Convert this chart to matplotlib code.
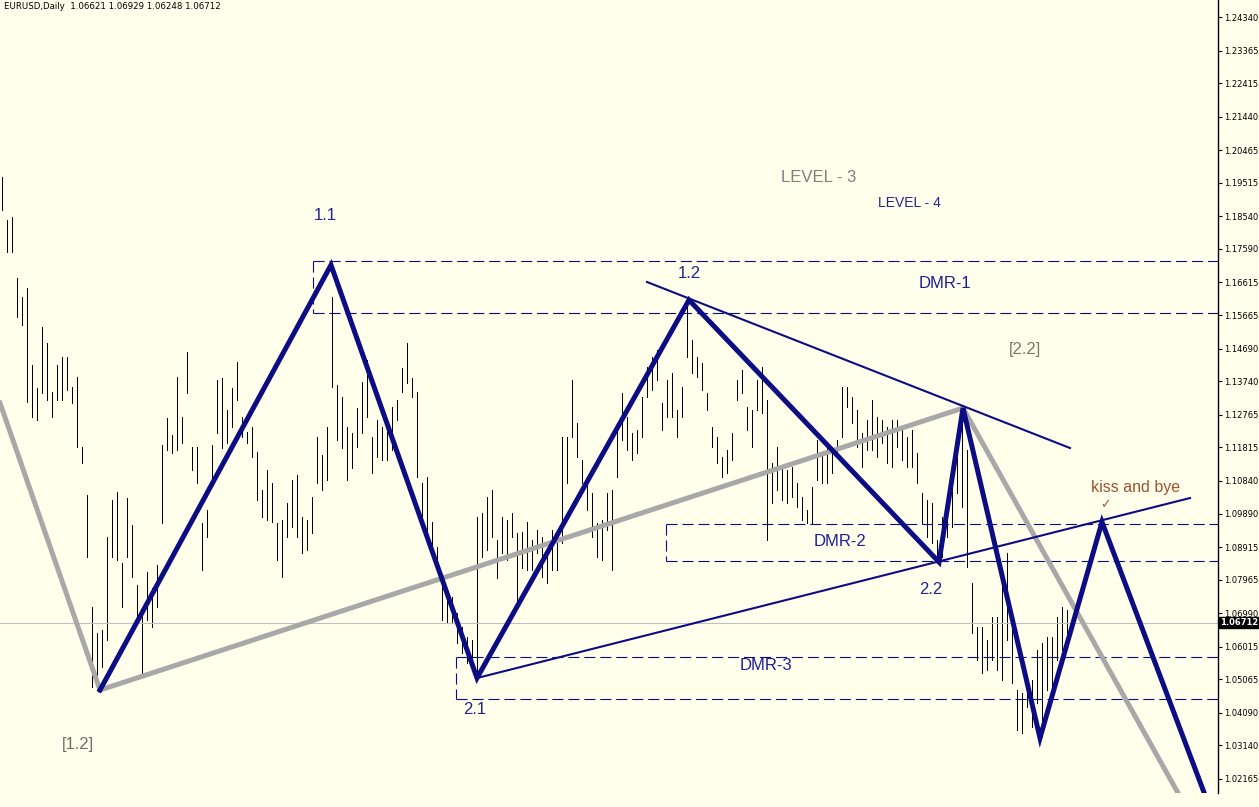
import numpy as np
import matplotlib
matplotlib.use('Agg')
import matplotlib.pyplot as plt
import matplotlib.transforms as mtransforms

plt.rcParams['font.family'] = ['Liberation Sans', 'DejaVu Sans']
plt.rcParams['lines.scale_dashes'] = False

# daily bars, high / low in 1e-4 units
bar_high = [11969, 11844, 11852, 11675, 11620, 11646, 11422, 11355, 11532, 11486,
            11343, 11422, 11445, 11445, 11358, 11387, 11183, 11044, 10718, 10642,
            10651, 10921, 11029, 11052, 10846, 11035, 10956, 10782, 10709, 10819,
            10773, 10840, 11189, 11268, 11218, 11387, 11270, 11460, 11183, 11183,
            10962, 11000, 11189, 11378, 11384, 11291, 11355, 11431, 11270, 11227,
            11241, 11169, 11058, 11116, 11078, 10962, 10971, 11020, 11087, 11102,
            10980, 10971, 11038, 11212, 11160, 11241, 11620, 11364, 11329, 11241,
            11224, 11297, 11372, 11436, 11212, 11262, 11241, 11262, 11300, 11320,
            11413, 11486, 11384, 11343, 11078, 11096, 10965, 10892, 10776, 10758,
            10747, 10700, 10659, 10630, 10622, 10980, 10991, 11038, 11058, 10913,
            10980, 10971, 10991, 10933, 10936, 10965, 10913, 10942, 10921, 10863,
            10942, 10942, 11212, 11212, 11378, 11253, 11145, 11096, 11049, 10962,
            10971, 11049, 11058, 11253, 11340, 11270, 11224, 11233, 11329, 11416,
            11445, 11465, 11311, 11378, 11399, 11291, 11358, 11620, 11495, 11445,
            11428, 11340, 11241, 11212, 11154, 11174, 11224, 11378, 11407, 11300,
            11291, 11378, 11416, 11320, 11137, 11183, 11125, 11116, 11125, 11078,
            11038, 11000, 11067, 11204, 11166, 11195, 11174, 11204, 11358, 11358,
            11329, 11291, 11224, 11262, 11320, 11270, 11262, 11241, 11262, 11262,
            11233, 11212, 11233, 11166, 11049, 11029, 11020, 10913, 10980, 11000,
            11087, 11174, 11300, 11174, 10788, 10659, 10659, 10622, 10688, 10688,
            10796, 10875, 10671, 10476, 10467, 10496, 10505, 10592, 10613, 10630,
            10630, 10688, 10718, 10709]
bar_low = [11873, 11751, 11751, 11561, 11538, 11314, 11270, 11262, 11340, 11320,
           11270, 11320, 11320, 11349, 11311, 11183, 11137, 10863, 10485, 10476,
           10543, 10622, 10863, 10854, 10718, 10863, 10805, 10680, 10520, 10680,
           10659, 10718, 10962, 11174, 11166, 11174, 11195, 11340, 11116, 11078,
           10825, 10921, 11078, 11224, 11180, 11195, 11241, 11320, 11212, 11195,
           11154, 11029, 10980, 10971, 10965, 10854, 10805, 10921, 10950, 10921,
           10875, 10883, 10933, 11078, 11058, 11087, 11358, 11204, 11180, 11087,
           11122, 11183, 11224, 11270, 11108, 11154, 11145, 11145, 11174, 11262,
           11343, 11369, 11329, 11096, 10980, 10904, 10892, 10834, 10680, 10674,
           10671, 10613, 10584, 10555, 10534, 10511, 10863, 10883, 10921, 10802,
           10875, 10854, 10921, 10729, 10831, 10825, 10825, 10875, 10805, 10788,
           10825, 10825, 10904, 11078, 11212, 11154, 11078, 11000, 10921, 10863,
           10854, 10942, 10825, 11096, 11204, 11174, 11145, 11166, 11212, 11329,
           11349, 11378, 11233, 11270, 11270, 11212, 11270, 11445, 11399, 11387,
           11349, 11291, 11183, 11137, 11096, 11108, 11145, 11320, 11340, 11233,
           11183, 11291, 11282, 10913, 11020, 11058, 11029, 11020, 11038, 11009,
           10971, 10962, 10962, 11087, 11078, 11078, 11108, 11154, 11212, 11300,
           11253, 11183, 11125, 11174, 11174, 11154, 11195, 11137, 11125, 11183,
           11145, 11125, 11125, 11078, 10962, 10921, 10904, 10846, 10863, 10921,
           10950, 11049, 11009, 10834, 10642, 10563, 10526, 10534, 10563, 10534,
           10505, 10622, 10496, 10360, 10351, 10427, 10368, 10438, 10339, 10476,
           10446, 10563, 10592, 10642]

# wave pivots (bar index, price)
wave_x = [19.6, 65.8, 95.0, 137.4, 187.4, 192.2, 207.6, 220.0, 240.6]
wave_y = [1.04753, 1.17122, 1.05102, 1.16104, 1.08478, 1.12960, 1.03356, 1.09643, 1.01697]
grey_x = [-0.4, 19.6, 192.2, 235.2]
grey_y = [1.13106, 1.04753, 1.12960, 1.01756]
upper_tl_x = [129.0, 213.6]
upper_tl_y = [1.16628, 1.11796]
lower_tl_x = [95.0, 237.6]
lower_tl_y = [1.05102, 1.10341]

# DMR zones: (left bar, top, bottom)
dmr_zones = [(62.2, 1.17239, 1.15725), (132.8, 1.09584, 1.08508), (90.8, 1.05714, 1.04491)]

price_ticks = [1.24340, 1.23365, 1.22415, 1.21440, 1.20465, 1.19515, 1.18540, 1.17590,
               1.16615, 1.15665, 1.14690, 1.13740, 1.12765, 1.11815, 1.10840, 1.09890,
               1.08915, 1.07965, 1.06990, 1.06015, 1.05065, 1.04090, 1.03140, 1.02165]
last_price = 1.06712

labels = [
    ("1.1", 64.6, 1.18577, '#23238E', 12),
    ("1.2", 137.4, 1.16889, '#23238E', 12),
    ("2.1", 94.6, 1.04200, '#23238E', 12),
    ("2.2", 185.8, 1.07664, '#23238E', 12),
    ("[1.2]", 15.2, 1.03153, '#6E6E6E', 12),
    ("[2.2]", 204.6, 1.14649, '#7A7A6A', 12),
    ("LEVEL - 3", 163.4, 1.19683, '#808080', 12),
    ("LEVEL - 4", 181.4, 1.18927, '#23238E', 10),
    ("DMR-1", 188.6, 1.16598, '#1E1E96', 12),
    ("DMR-2", 167.6, 1.09090, '#1E1E96', 12),
    ("DMR-3", 152.8, 1.05481, '#1E1E96', 12),
    ("kiss and bye", 226.8, 1.10661, '#A0522D', 11.5),
]

bg = '#FFFFEC'
navy = '#0C0C84'
fig = plt.figure(figsize=(12.59, 8.07), dpi=100, facecolor=bg)
ax = fig.add_axes([0, 14 / 807, 1218 / 1259, 793 / 807], facecolor=bg)
ax.set_xlim(-0.4, 243.2)
ax.set_ylim(1.01756, 1.24835)

idx = np.arange(len(bar_high))
ax.vlines(idx, np.array(bar_low) / 1e4, np.array(bar_high) / 1e4, color='black', lw=0.72,
          antialiased=False)

ax.axhline(last_price, color='#C0C0C0', lw=0.8)

for left, top, bot in dmr_zones:
    for lvl in (top, bot):
        ax.plot([left, 243.2], [lvl, lvl], color=navy, lw=0.8, dashes=(8, 3.5))
    ax.plot([left, left], [top, bot], color=navy, lw=0.8, dashes=(8, 3.5))

ax.plot(grey_x, grey_y, color='#A8A8A8', lw=3.6, solid_joinstyle='miter')
ax.plot(upper_tl_x, upper_tl_y, color=navy, lw=1.5)
ax.plot(lower_tl_x, lower_tl_y, color=navy, lw=1.5)
ax.plot(wave_x, wave_y, color=navy, lw=3.6, solid_joinstyle='miter')

for txt, x, y, c, s in labels:
    ax.text(x, y, txt, color=c, fontsize=s, ha='center', va='center')
ax.text(220.6, 1.10137, "\u2713", color='#A0522D', fontsize=9, ha='center', va='center',
        family=['DejaVu Sans'])

ax.text(0.003, 0.997, "EURUSD,Daily  1.06621 1.06929 1.06248 1.06712", transform=ax.transAxes,
        fontsize=6.2, ha='left', va='top', family=['DejaVu Sans'])

for s in ('top', 'left', 'bottom'):
    ax.spines[s].set_visible(False)
ax.spines['right'].set_color('black')
ax.spines['right'].set_linewidth(1)
ax.set_xticks([])
ax.yaxis.tick_right()
ax.set_yticks(price_ticks)
ax.set_yticklabels([f"{t:.5f}" for t in price_ticks])
ax.tick_params(axis='y', length=3, width=0.8, pad=1.5, labelsize=6, colors='black')
for lab in ax.get_yticklabels():
    lab.set_family('DejaVu Sans')

trans = mtransforms.blended_transform_factory(ax.transAxes, ax.transData)
ax.text(1.002, last_price, f"{last_price:.5f}", transform=trans, fontsize=6, color='white',
        ha='left', va='center', family=['DejaVu Sans'], fontweight='bold',
        bbox=dict(boxstyle='square,pad=0.12', fc='black', ec='black'))

fig.savefig('out.png', dpi=100, facecolor=bg)
